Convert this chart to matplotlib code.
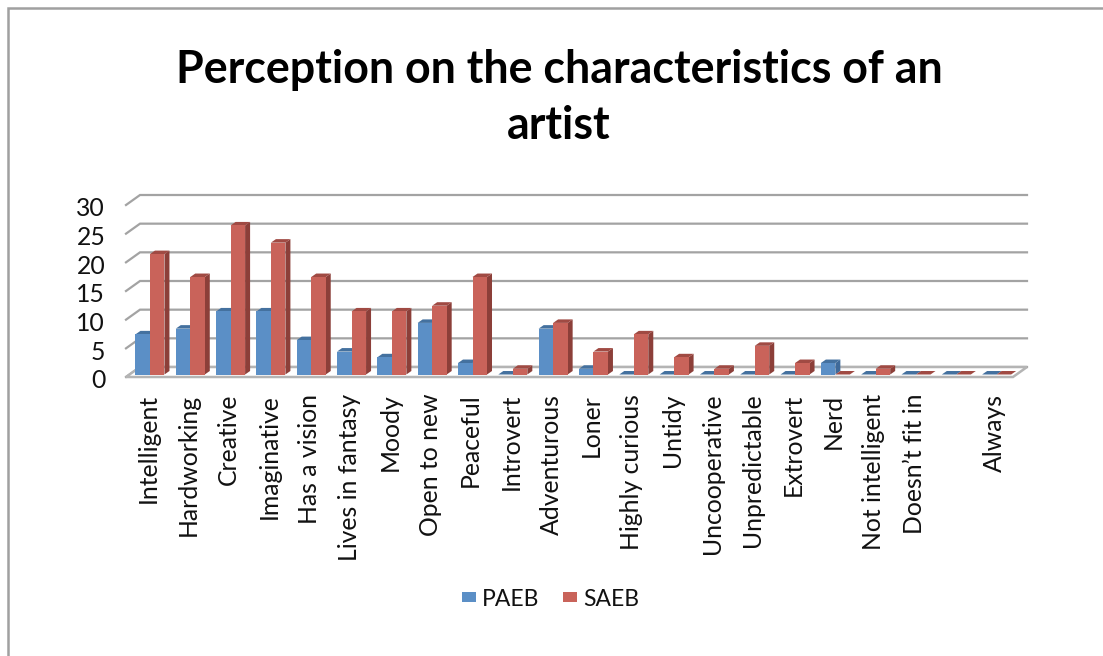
import numpy as np
import matplotlib
matplotlib.use('Agg')
import matplotlib.pyplot as plt
from matplotlib.patches import Polygon, Rectangle
from matplotlib.lines import Line2D
from matplotlib.transforms import ScaledTranslation

plt.rcParams['font.family'] = ['Lato', 'DejaVu Sans']

categories = ['Intelligent', 'Hardworking', 'Creative', 'Imaginative', 'Has a vision',
              'Lives in fantasy', 'Moody', 'Open to new', 'Peaceful', 'Introvert',
              'Adventurous', 'Loner', 'Highly curious', 'Untidy', 'Uncooperative',
              'Unpredictable', 'Extrovert', 'Nerd', 'Not intelligent', 'Doesn\u2019t fit in',
              '', 'Always']
paeb = [7, 8, 11, 11, 6, 4, 3, 9, 2, 0, 8, 1, 0, 0, 0, 0, 0, 2, 0, 0, 0, 0]
saeb = [21, 17, 26, 23, 17, 11, 11, 12, 17, 1, 9, 4, 7, 3, 1, 5, 2, 0, 1, 0, 0, 0]
y_ticks = [0, 5, 10, 15, 20, 25, 30]

W, H = 1103, 656
fig = plt.figure(figsize=(W / 100, H / 100), dpi=100)

# front plane of the fake 3D box, in pixels
left, right, bottom, top = 126, 1013, 377, 205
ax = fig.add_axes([left / W, 1 - bottom / H, (right - left) / W, (bottom - top) / H])
ax.set_xlim(0, len(categories))
ax.set_ylim(0, 30)
ax.patch.set_visible(False)
for s in ax.spines.values():
    s.set_visible(False)

# pixel -> data unit
px_x = len(categories) / (right - left)
px_y = 30 / (bottom - top)
wall_dx, wall_dy = 14 * px_x, 10 * px_y
bar_w = 14.5 * px_x
bar_dx, bar_dy = 5 * px_x, 3.5 * px_y
shift_x, shift_y = 4 * px_x, 2.5 * px_y

grid_col = '#a3a3a3'
n = len(categories)
for t in y_ticks:
    ax.plot([0, wall_dx, n + wall_dx], [t, t + wall_dy, t + wall_dy], color=grid_col,
            lw=1.6, clip_on=False, zorder=1, solid_joinstyle='miter')

# floor
ax.add_patch(Polygon([(0, 0), (n, 0), (n + wall_dx, wall_dy), (wall_dx, wall_dy)], closed=True,
                     facecolor='white', edgecolor='#b4b4b4', lw=1.8, clip_on=False, zorder=2))


def draw_bars(x0, vals, face, side, topc):
    for x, v in zip(x0, vals):
        y0 = shift_y
        y1 = v + shift_y
        # side and top faces are worked out from the bar value
        ax.add_patch(Polygon([(x + bar_w, y0), (x + bar_w + bar_dx, y0 + bar_dy),
                              (x + bar_w + bar_dx, y1 + bar_dy), (x + bar_w, y1)],
                             closed=True, fc=side, ec='none', clip_on=False, zorder=3))
        ax.add_patch(Polygon([(x, y1), (x + bar_dx, y1 + bar_dy),
                              (x + bar_w + bar_dx, y1 + bar_dy), (x + bar_w, y1)],
                             closed=True, fc=topc, ec='none', clip_on=False, zorder=3))
    ax.bar(x0, vals, bar_w, bottom=y0, align='edge', color=face, zorder=3, clip_on=False)


idx = np.arange(n)
x_blue = idx + 0.5 - bar_w + shift_x - 0.005
x_red = x_blue + bar_w
draw_bars(x_blue, paeb, '#5b8fc6', '#3f6a9a', '#44719f')
draw_bars(x_red, saeb, '#c9635a', '#8c3f39', '#a04a43')

ax.set_xticks(idx + 0.5)
ax.set_xticklabels(categories, rotation=90, fontsize=17.8, color='#111111')
ax.set_yticks(y_ticks)
ax.set_yticklabels([str(t) for t in y_ticks], fontsize=17.8, color='#111111')
ax.tick_params(axis='both', length=0)
ax.tick_params(axis='x', pad=12)
ax.tick_params(axis='y', pad=15)

# nudge the tick labels a couple of pixels
nudge_x = ScaledTranslation(2 / 100, 0, fig.dpi_scale_trans)
nudge_y = ScaledTranslation(0, -2 / 100, fig.dpi_scale_trans)
for lab in ax.get_xticklabels():
    lab.set_transform(lab.get_transform() + nudge_x)
for lab in ax.get_yticklabels():
    lab.set_transform(lab.get_transform() + nudge_y)

fig.text(559 / W, 1 - 70 / H, 'Perception on the characteristics of an', ha='center', va='center',
         fontsize=32.2, fontweight='bold', color='black')
fig.text(559 / W, 1 - 126 / H, 'artist', ha='center', va='center',
         fontsize=32.2, fontweight='bold', color='black')

# legend
for px, col, lab in [(462, '#5b8fc6', 'PAEB'), (563, '#c9635a', 'SAEB')]:
    fig.add_artist(Rectangle((px / W, 1 - 602 / H), 14 / W, 10 / H, transform=fig.transFigure,
                             fc=col, ec='none'))
    fig.text((px + 20) / W, 1 - 600 / H, lab, ha='left', va='center', fontsize=16.5, color='#111111')

# outer frame of the chart
fig.add_artist(Line2D([7.5 / W, 7.5 / W, 1], [0, 1 - 8 / H, 1 - 8 / H], transform=fig.transFigure,
                      color='#a0a0a0', lw=1.8, solid_joinstyle='miter'))

fig.savefig('out.png', dpi=100, facecolor='white')
